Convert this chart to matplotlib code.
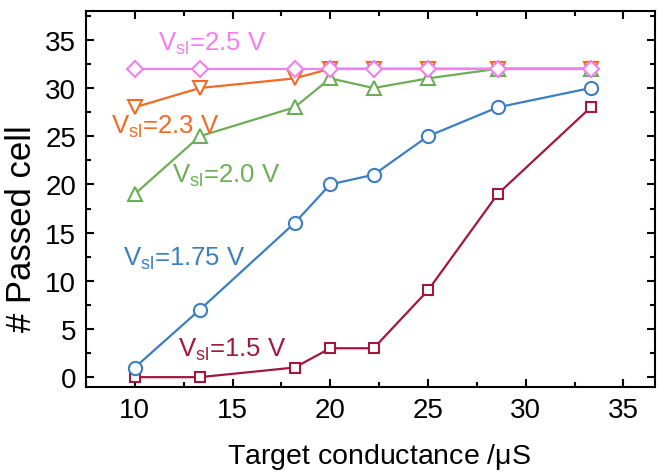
import matplotlib.pyplot as plt
from matplotlib.ticker import MultipleLocator

plt.rcParams['font.family'] = ['Liberation Sans', 'DejaVu Sans']
plt.rcParams['mathtext.fontset'] = 'custom'
plt.rcParams['mathtext.rm'] = 'Liberation Sans'
plt.rcParams['mathtext.it'] = 'Liberation Sans'

# target conductance (uS)
g = [10, 13.33, 18.18, 20, 22.22, 25, 28.57, 33.33]

# number of passed cells for each V_sl
n_150 = [0, 0, 1, 3, 3, 9, 19, 28]
n_175 = [1, 7, 16, 20, 21, 25, 28, 30]
n_200 = [19, 25, 28, 31, 30, 31, 32, 32]
n_230 = [28, 30, 31, 32, 32, 32, 32, 32]
n_250 = [32, 32, 32, 32, 32, 32, 32, 32]

fig = plt.figure(figsize=(6.66, 4.77), dpi=100)
ax = fig.add_axes([0.129, 0.187, 0.854, 0.788])

kw = dict(lw=1.6, ms=9.5, mew=1.5, mfc='white')
ax.plot(g, n_150, marker='s', color='#A3173F', ms=7.5, lw=1.6, mew=1.5, mfc='white')
ax.plot(g, n_175, marker='o', color='#3B7EC1', **kw)
ax.plot(g, n_200, marker='^', color='#6CAE55', **kw)
ax.plot(g, n_230, marker='v', color='#F26A24', **kw)
ax.plot(g, n_250, marker='D', color='#F47EF0', ms=8.5, lw=1.6, mew=1.5, mfc='white')

fs = 18.5
ax.text(11.2, 34.0, r'V$_{\rm sl}$=2.5 V', color='#F47EF0', fontsize=fs)
ax.text(8.8, 25.4, r'V$_{\rm sl}$=2.3 V', color='#F26A24', fontsize=fs)
ax.text(11.9, 20.3, r'V$_{\rm sl}$=2.0 V', color='#6CAE55', fontsize=fs)
ax.text(9.4, 11.7, r'V$_{\rm sl}$=1.75 V', color='#3B7EC1', fontsize=fs)
ax.text(12.2, 2.2, r'V$_{\rm sl}$=1.5 V', color='#A3173F', fontsize=fs)

ax.set_xlim(7.5, 36.6)
ax.set_ylim(-1, 38)
ax.xaxis.set_major_locator(MultipleLocator(5))
ax.xaxis.set_minor_locator(MultipleLocator(2.5))
ax.yaxis.set_major_locator(MultipleLocator(5))
ax.yaxis.set_minor_locator(MultipleLocator(2.5))
ax.tick_params(which='both', direction='in', top=True, right=True, width=1.5, labelsize=20)
ax.tick_params(which='major', length=6, pad=7)
ax.tick_params(which='minor', length=3.5)
for s in ax.spines.values():
    s.set_linewidth(1.5)

ax.set_xlabel(r'Target conductance /$\mu$S', fontsize=20.5)
ax.set_ylabel('# Passed cell', fontsize=25)
ax.xaxis.set_label_coords(0.515, -0.145)
ax.yaxis.set_label_coords(-0.084, 0.423)

fig.savefig('out.png', dpi=100)
